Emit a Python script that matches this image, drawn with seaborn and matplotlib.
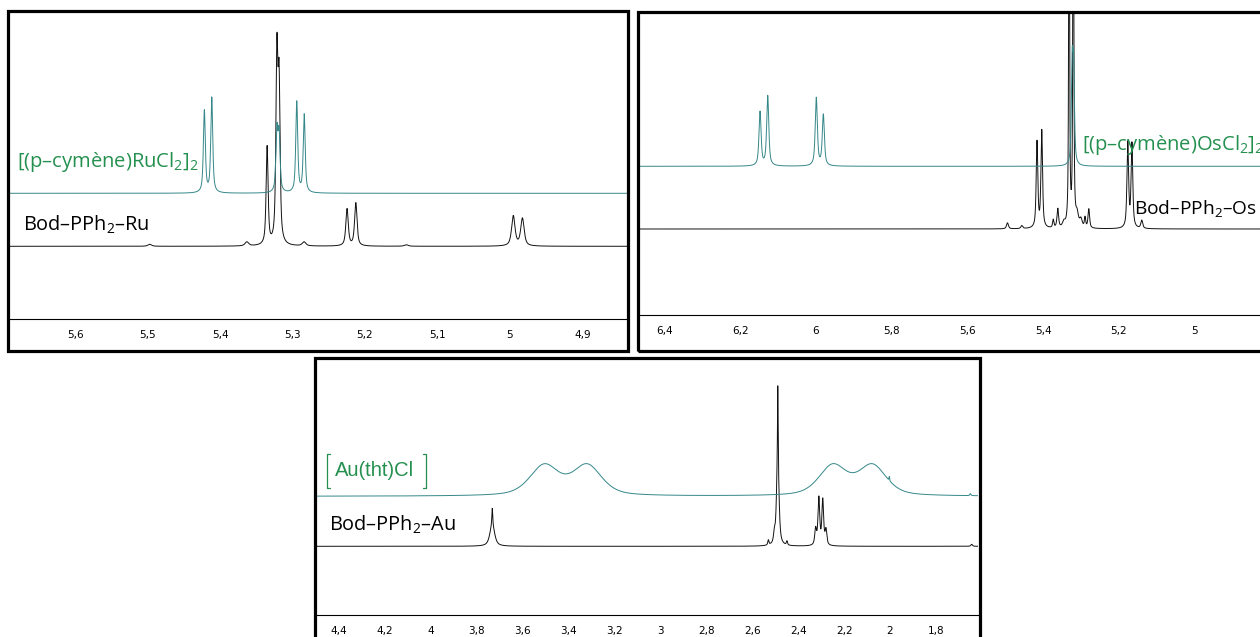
import numpy as np
import matplotlib
matplotlib.use("Agg")
import matplotlib.pyplot as plt
import seaborn as sns
from matplotlib.patches import Rectangle
from matplotlib.ticker import MultipleLocator, FuncFormatter

# ---- peak tables: shift (ppm), height (px), half width (ppm)
# Ru panel
ru_ref_ppm = [5.4216, 5.4114, 5.3215, 5.3185, 5.2941, 5.2838]
ru_ref_h = [82, 95, 60, 56, 91, 78]
ru_ref_w = [0.0016, 0.0016, 0.0016, 0.0016, 0.0016, 0.0016]

ru_cplx_ppm = [5.497, 5.363, 5.335, 5.3215, 5.3185, 5.284, 5.2247, 5.2126, 5.143, 4.9953, 4.9827]
ru_cplx_h = [2, 4, 98, 184, 152, 4, 37, 43, 1.5, 30, 27.5]
ru_cplx_w = [0.003, 0.003, 0.0016, 0.0016, 0.0016, 0.003, 0.002, 0.002, 0.003, 0.0028, 0.0028]

# Os panel
os_ref_ppm = [6.148, 6.1277, 5.9993, 5.9807, 5.323, 5.319]
os_ref_h = [54, 70, 68, 51, 96, 90]
os_ref_w = [0.0033, 0.0033, 0.0033, 0.0033, 0.0025, 0.0025]

os_cplx_ppm = [5.494, 5.456, 5.4159, 5.4034, 5.373, 5.361, 5.345, 5.331, 5.320,
               5.310, 5.300, 5.289, 5.279, 5.176, 5.165, 5.139]
os_cplx_h = [6, 3, 86, 97, 8, 19, 5, 420, 480, 12, 8, 10, 19, 85, 84, 8]
os_cplx_w = [0.003, 0.003, 0.0025, 0.0025, 0.002, 0.0025, 0.004, 0.0014, 0.0014,
             0.004, 0.004, 0.002, 0.0025, 0.0026, 0.0026, 0.003]

# Au panel
au_ref_ppm = [3.506, 3.320, 2.249, 2.077, 2.003, 1.650]
au_ref_h = [30.2, 30.2, 30, 30, 4, 2]
au_ref_w = [0.075, 0.075, 0.072, 0.072, 0.0015, 0.003]

au_cplx_ppm = [3.733, 3.733, 2.530, 2.504, 2.489, 2.489, 2.449, 2.324, 2.310, 2.293, 2.279, 1.644]
au_cplx_h = [22, 16, 5, 9, 95, 65, 4, 16, 47, 45, 15, 2]
au_cplx_w = [0.012, 0.002, 0.003, 0.004, 0.006, 0.0012, 0.003, 0.0045, 0.0045, 0.0045, 0.0045, 0.004]

ru_ticks = (0.1, 0.02)
os_ticks = (0.2, 0.04)
au_ticks = (0.2, 0.04)


def spectrum(grid, ppm, h, w, eta):
    y = np.zeros_like(grid)
    for p, a, hw in zip(ppm, h, w):
        d = (grid - p) / hw
        y += a * (eta / (1 + d ** 2) + (1 - eta) * np.exp(-np.log(2) * d ** 2))
    return y


sns.set_style("white")
plt.rcParams['font.family'] = ['Open Sans', 'DejaVu Sans']
plt.rcParams['mathtext.fontset'] = 'custom'
plt.rcParams['mathtext.rm'] = 'Open Sans'

W, H = 1260, 637
fig = plt.figure(figsize=(12.6, 6.37), dpi=100)

teal = '#35878a'
green_txt = '#24904f'


def px_axes(x0, x1, yb, yt):
    return fig.add_axes([x0 / W, 1 - yb / H, (x1 - x0) / W, (yb - yt) / H])


def frame(x0, x1, y0, y1):
    r = Rectangle((x0 / W, 1 - y1 / H), (x1 - x0) / W, (y1 - y0) / H,
                  transform=fig.transFigure, fill=False, ec='black', lw=2.3, zorder=5)
    fig.add_artist(r)
    return r


def style_axes(ax, xlim, ymax, ticks, rect):
    ax.set_xlim(*xlim)
    ax.set_ylim(0, ymax)
    ax.set_facecolor('none')
    for s in ['top', 'left', 'right']:
        ax.spines[s].set_visible(False)
    ax.spines['bottom'].set_linewidth(0.8)
    ax.spines['bottom'].set_color('black')
    ax.set_yticks([])
    ax.xaxis.set_major_locator(MultipleLocator(ticks[0]))
    ax.xaxis.set_minor_locator(MultipleLocator(ticks[1]))
    ax.xaxis.set_major_formatter(FuncFormatter(lambda v, _: f"{round(v, 2):g}".replace('.', ',')))
    ax.tick_params(axis='x', which='major', direction='out', length=6.5, width=0.7,
                   pad=1.5, labelsize=7.5, colors='black')
    ax.tick_params(axis='x', which='minor', direction='out', length=3.2, width=0.7)
    for lab in ax.get_xticklabels():
        lab.set_family(['Liberation Sans Narrow', 'DejaVu Sans'])
        lab.set_clip_path(rect)
    ax.set_xlabel('')
    ax.set_ylabel('')


def draw(ax, xlim, ppm, h, w, eta, base, color, lw=0.7, z=2):
    grid = np.linspace(xlim[0], xlim[1], 14000)
    y = base + spectrum(grid, ppm, h, w, eta)
    sns.lineplot(x=grid, y=y, ax=ax, color=color, lw=lw, estimator=None, sort=False, zorder=z)


# ---- panel 1 : Ru
xl1 = (5.6898, 4.8384)
ax1 = px_axes(10, 627, 319.3, 12.7)
r1 = frame(8.3, 628.3, 11.3, 350.7)
draw(ax1, xl1, ru_cplx_ppm, ru_cplx_h, ru_cplx_w, 0.7, 73, '#111111')
draw(ax1, xl1, ru_ref_ppm, ru_ref_h, ru_ref_w, 0.7, 126, teal, z=3)
style_axes(ax1, xl1, 319.3 - 12.7, ru_ticks, r1)
ax1.text(5.680, 152, r'[(p–cymène)RuCl$_2$]$_2$', color=green_txt, fontsize=14.5, va='baseline')
ax1.text(5.6712, 88.6, r'Bod–PPh$_2$–Ru', color='black', fontsize=14.3, va='baseline')

# ---- panel 2 : Os
xl2 = (6.4666, 4.8265)
ax2 = px_axes(639.5, 1260, 314.5, 14)
r2 = frame(637.7, 1290, 12.5, 351)
draw(ax2, xl2, os_cplx_ppm, os_cplx_h, os_cplx_w, 0.7, 85.5, '#111111')
draw(ax2, xl2, os_ref_ppm, os_ref_h, os_ref_w, 0.7, 148.2, teal, z=3)
style_axes(ax2, xl2, 314.5 - 14, os_ticks, r2)
ax2.text(5.2977, 164.5, r'[(p–cymène)OsCl$_2$]$_2$', color=green_txt, fontsize=14.5, va='baseline')
ax2.text(5.1590, 100.2, r'Bod–PPh$_2$–Os', color='black', fontsize=13.8, va='baseline')

# ---- panel 3 : Au
xl3 = (4.4967, 1.6152)
ax3 = px_axes(317, 978.3, 614.7, 360)
r3 = frame(315.3, 980, 358.3, 680)
draw(ax3, xl3, au_cplx_ppm, au_cplx_h, au_cplx_w, 0.7, 68.4, '#111111')
draw(ax3, xl3, au_ref_ppm, au_ref_h, au_ref_w, 0.5, 118.4, teal, z=3)
style_axes(ax3, xl3, 614.7 - 360, au_ticks, r3)
ax3.text(4.417, 138.7, 'Au(tht)Cl', color=green_txt, fontsize=14.5, va='baseline',
         family=['Liberation Sans', 'DejaVu Sans'])
# thin square brackets around the Au(tht)Cl label
for bx, s in [(4.4532, -1), (4.0218, 1)]:
    ax3.plot([bx + 0.013 * s, bx, bx, bx + 0.013 * s], [161, 161, 127, 127],
             color=green_txt, lw=0.9, clip_on=False)
ax3.text(4.4458, 83.7, r'Bod–PPh$_2$–Au', color='black', fontsize=14.3, va='baseline')

fig.savefig('out.png', dpi=100)
